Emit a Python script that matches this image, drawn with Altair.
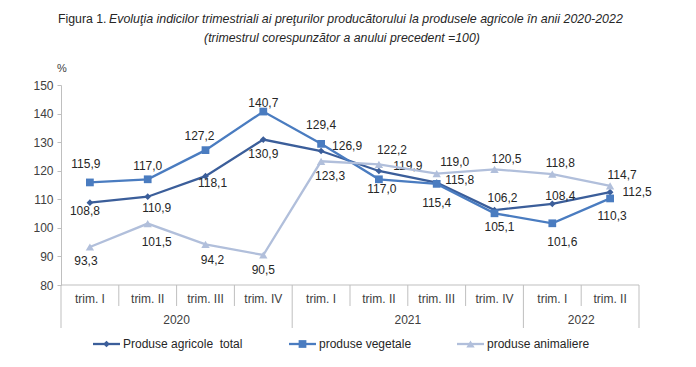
import altair as alt
import pandas as pd

quarters = ["trim. I", "trim. II", "trim. III", "trim. IV",
            "trim. I", "trim. II", "trim. III", "trim. IV",
            "trim. I", "trim. II"]
years = ["2020", "2021", "2022"]
year_first = [0, 4, 8]   # first quarter index of each year
year_count = [4, 4, 2]

series_names = ["Produse agricole\u00a0 total", "produse vegetale", "produse animaliere"]
total = [108.8, 110.9, 118.1, 130.9, 126.9, 119.9, 115.8, 106.2, 108.4, 112.5]
vegetale = [115.9, 117.0, 127.2, 140.7, 129.4, 117.0, 115.4, 105.1, 101.6, 110.3]
animaliere = [93.3, 101.5, 94.2, 90.5, 123.3, 122.2, 119.0, 120.5, 118.8, 114.7]
y_ticks = [80, 90, 100, 110, 120, 130, 140, 150]

title_a = "Figura 1."
title_b = "Evoluţia indicilor trimestriali ai preţurilor producătorului la produsele agricole în anii 2020-2022"
title_c = "(trimestrul corespunzător a anului precedent =100)"

# label nudges in pixels (layout only)
total_dx = [-5, 9, 7, 0, 26, 29, 23, 8, 8, 27]
total_dy = [8, 11, 7, 14, -5, -5, -3, -12, -8, 0]
veg_dx = [-4, 0, -6, 0, 0, 3, 0, 5, 10, 2]
veg_dy = [-18, -13, -14, -9, -19, 10, 19, 14, 19, 18]
ani_dx = [-4, 9, 7, 0, 9, 13, 18, 12, 8, 12]
ani_dy = [14, 18, 16, 15, 15, -14, -12, -10, -11, -11]

colors = ["#3b5e9a", "#4a7cc0", "#b1bfdb"]
shapes = ["diamond", "square", "triangle-up"]
sizes = [45, 60, 70]

W, H = 578, 200
N = len(quarters)
YMIN, YMAX = 80, 150
FONT = "Liberation Sans"
PX = N / W  # data units per pixel on x

xs = alt.Scale(domain=[0, N])
ys = alt.Scale(domain=[YMIN, YMAX])
yaxis = alt.Axis(values=y_ticks, grid=False, domainColor="#bfbfbf",
                 tickColor="#bfbfbf", tickSize=4, labelFontSize=12,
                 labelColor="#404040", labelPadding=4, labelFont=FONT,
                 title=None)

layers = []

# category axis furniture
year_bounds = year_first + [N]
short_b = [b for b in range(1, N) if b not in year_bounds]
layers.append(alt.Chart(pd.DataFrame({"b": short_b})).mark_rule(color="#bfbfbf", strokeWidth=1).encode(
    x=alt.X("b:Q", scale=xs, axis=None), y=alt.value(H), y2=alt.value(H + 21)))
layers.append(alt.Chart(pd.DataFrame({"b": year_bounds})).mark_rule(color="#bfbfbf", strokeWidth=1).encode(
    x=alt.X("b:Q", scale=xs, axis=None), y=alt.value(H), y2=alt.value(H + 43)))
layers.append(alt.Chart(pd.DataFrame({"a": [0], "c": [N]})).mark_rule(color="#bfbfbf", strokeWidth=1).encode(
    x=alt.X("a:Q", scale=xs, axis=None), x2="c:Q", y=alt.value(H)))

for name, vals, dxs, dys, c, s, sz in zip(
        series_names, [total, vegetale, animaliere],
        [total_dx, veg_dx, ani_dx], [total_dy, veg_dy, ani_dy], colors, shapes, sizes):
    d = pd.DataFrame({
        "pos": [i + 0.5 for i in range(N)],
        "value": vals,
        "label": [f"{v:.1f}".replace(".", ",") for v in vals],
        "lx": [i + 0.5 + dxs[i] * PX for i in range(N)],
        "ly": [vals[i] - dys[i] * (YMAX - YMIN) / H for i in range(N)],
    })
    ch = alt.Chart(d)
    layers.append(ch.mark_line(strokeWidth=2.3, color=c).encode(
        x=alt.X("pos:Q", scale=xs, axis=None), y=alt.Y("value:Q", scale=ys, axis=yaxis)))
    layers.append(ch.mark_point(filled=True, opacity=1, color=c, shape=s, size=sz).encode(
        x=alt.X("pos:Q", scale=xs, axis=None), y=alt.Y("value:Q", scale=ys, axis=yaxis)))
    layers.append(ch.mark_text(fontSize=12, font=FONT, color="#262626").encode(
        x=alt.X("lx:Q", scale=xs, axis=None), y=alt.Y("ly:Q", scale=ys, axis=yaxis), text="label:N"))

# category labels
qdf = pd.DataFrame({"pos": [i + 0.5 for i in range(N)], "q": quarters})
layers.append(alt.Chart(qdf).mark_text(fontSize=12, font=FONT, color="#404040").encode(
    x=alt.X("pos:Q", scale=xs, axis=None), y=alt.value(214), text="q:N"))
ydf = pd.DataFrame({"pos": [f + n / 2 for f, n in zip(year_first, year_count)], "yr": years})
layers.append(alt.Chart(ydf).mark_text(fontSize=12, font=FONT, color="#404040").encode(
    x=alt.X("pos:Q", scale=xs, axis=None), y=alt.value(235), text="yr:N"))

# titles
layers.append(alt.Chart(pd.DataFrame({"t": [title_a]})).mark_text(
    fontSize=12.3, font=FONT, color="#262626", align="left").encode(
    x=alt.value(-3), y=alt.value(-66), text="t:N"))
layers.append(alt.Chart(pd.DataFrame({"t": [title_b]})).mark_text(
    fontSize=12.4, font=FONT, color="#262626", align="left", fontStyle="italic").encode(
    x=alt.value(48), y=alt.value(-66), text="t:N"))
layers.append(alt.Chart(pd.DataFrame({"t": [title_c]})).mark_text(
    fontSize=12.3, font=FONT, color="#262626", align="center", fontStyle="italic").encode(
    x=alt.value(281), y=alt.value(-47), text="t:N"))
layers.append(alt.Chart(pd.DataFrame({"t": ["%"]})).mark_text(
    fontSize=11, font=FONT, color="#404040").encode(
    x=alt.value(1), y=alt.value(-16), text="t:N"))

# custom legend
leg_x0 = [32, 228, 396]
for name, c, s, sz, x0 in zip(series_names, colors, shapes, sizes, leg_x0):
    ld = pd.DataFrame({"n": [name]})
    lc = alt.Chart(ld)
    layers.append(lc.mark_rule(strokeWidth=2.3, color=c).encode(
        x=alt.value(x0), x2=alt.value(x0 + 27), y=alt.value(259)))
    layers.append(lc.mark_point(filled=True, opacity=1, color=c, shape=s, size=sz).encode(
        x=alt.value(x0 + 13.5), y=alt.value(259)))
    layers.append(lc.mark_text(fontSize=12, font=FONT, color="#262626", align="left").encode(
        x=alt.value(x0 + 30), y=alt.value(259), text="n:N"))

chart = alt.layer(*layers).properties(
    width=W, height=H,
    autosize=alt.AutoSizeParams(type="none"),
    padding={"left": 53, "top": 77, "right": 40, "bottom": 70},
    background="white",
).configure_view(stroke=None)

chart.save("out.html", embed_options={"renderer": "svg", "actions": False})
